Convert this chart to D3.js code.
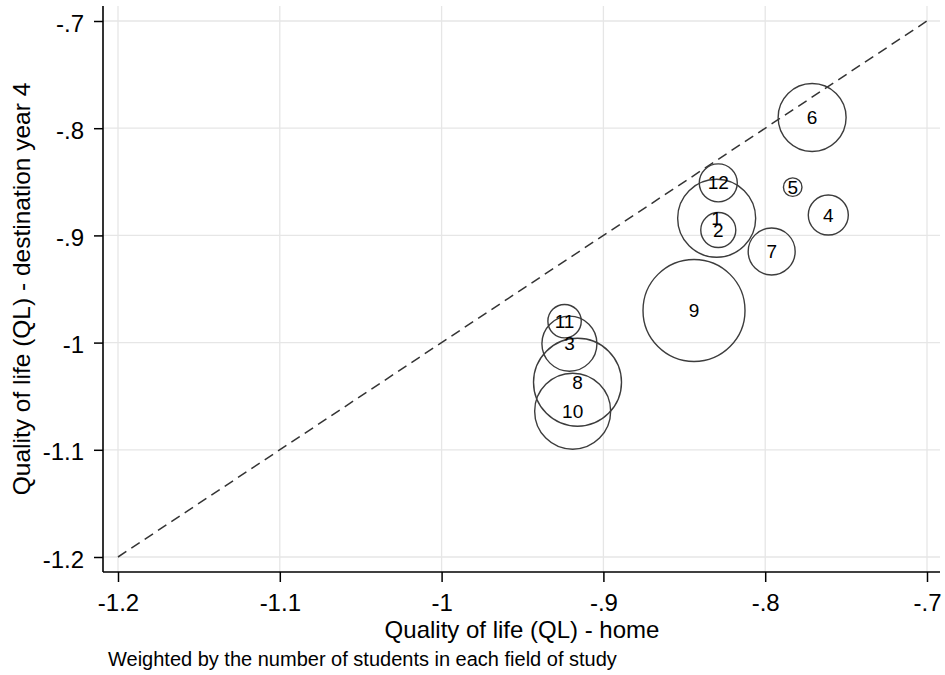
<!DOCTYPE html>
<html>
<head>
<meta charset="utf-8">
<script src="https://cdn.jsdelivr.net/npm/d3@7"></script>
<style>
  body { margin: 0; background: #fff; }
  svg { font-family: "Liberation Sans", Arial, sans-serif; }
</style>
</head>
<body>
<div id="chart"></div>
<script>
// Field of study labels
const fields = ["1", "2", "3", "4", "5", "6", "7", "8", "9", "10", "11", "12"];
// Quality of life at home (x)
const qlHome = [-0.830, -0.829, -0.921, -0.761, -0.783, -0.771, -0.796, -0.916, -0.844, -0.919, -0.924, -0.829];
// Quality of life at destination, year 4 (y)
const qlDest = [-0.884, -0.895, -1.001, -0.881, -0.855, -0.790, -0.915, -1.037, -0.970, -1.064, -0.980, -0.851];
// Number of students (bubble weight)
const students = [585, 118, 291, 154, 33, 444, 212, 744, 1000, 555, 107, 139];

const tickVals = [-1.2, -1.1, -1, -0.9, -0.8, -0.7];
const tickLabels = ["-1.2", "-1.1", "-1", "-.9", "-.8", "-.7"];

const W = 945, H = 675;
const plotL = 103, plotR = 940, plotT = 6, plotB = 572;

const svg = d3.select("#chart").append("svg")
    .attr("width", W)
    .attr("height", H);

const x = d3.scaleLinear().domain([-1.2, -0.7]).range([118, 927]);
const y = d3.scaleLinear().domain([-1.2, -0.7]).range([557, 21]);
const r = d3.scaleSqrt().domain([0, 1000]).range([0, 51]);

// grid
svg.append("g").selectAll("line")
    .data(tickVals)
    .join("line")
        .attr("x1", d => x(d)).attr("x2", d => x(d))
        .attr("y1", plotT).attr("y2", plotB)
        .attr("stroke", "#e6e6e6").attr("stroke-width", 1.3);
svg.append("g").selectAll("line")
    .data(tickVals)
    .join("line")
        .attr("y1", d => y(d)).attr("y2", d => y(d))
        .attr("x1", plotL).attr("x2", plotR)
        .attr("stroke", "#e6e6e6").attr("stroke-width", 1.3);

// 45 degree reference line
svg.append("line")
    .attr("x1", x(-1.2)).attr("y1", y(-1.2))
    .attr("x2", x(-0.7)).attr("y2", y(-0.7))
    .attr("stroke", "#333").attr("stroke-width", 1.5)
    .attr("stroke-dasharray", "10,6");

// axes
const xAxis = d3.axisBottom(x).tickValues(tickVals)
    .tickFormat((d, i) => tickLabels[i]).tickSizeOuter(0).tickSize(10).tickPadding(12);
const yAxis = d3.axisLeft(y).tickValues(tickVals)
    .tickFormat((d, i) => tickLabels[i]).tickSizeOuter(0).tickSize(9).tickPadding(10);

const xG = svg.append("g").attr("transform", `translate(0,${plotB})`).call(xAxis);
const yG = svg.append("g").attr("transform", `translate(${plotL},0)`).call(yAxis);
[xG, yG].forEach(g => {
    g.select(".domain").remove();
    g.selectAll(".tick line").attr("stroke", "#000").attr("stroke-width", 1.5);
    g.selectAll(".tick text").attr("font-size", 24).attr("fill", "#000")
        .attr("font-family", "Liberation Sans, Arial, sans-serif");
});
yG.selectAll(".tick text").attr("dy", "0.42em");
svg.append("line").attr("x1", plotL).attr("x2", plotR).attr("y1", plotB).attr("y2", plotB)
    .attr("stroke", "#000").attr("stroke-width", 1.6);
svg.append("line").attr("x1", plotL).attr("x2", plotL).attr("y1", plotT).attr("y2", plotB)
    .attr("stroke", "#000").attr("stroke-width", 1.6);

// bubbles
const data = fields.map((f, i) => ({ f, x: qlHome[i], y: qlDest[i], w: students[i] }));
svg.append("g").selectAll("circle")
    .data(data)
    .join("circle")
        .attr("cx", d => x(d.x))
        .attr("cy", d => y(d.y))
        .attr("r", d => r(d.w))
        .attr("fill", "none")
        .attr("stroke", "#3c3c3c")
        .attr("stroke-width", 1.4);
svg.append("g").selectAll("text")
    .data(data)
    .join("text")
        .attr("x", d => x(d.x))
        .attr("y", d => y(d.y))
        .attr("text-anchor", "middle")
        .attr("dominant-baseline", "central")
        .attr("font-size", 19)
        .attr("fill", "#000")
        .text(d => d.f);

// titles
svg.append("text")
    .attr("x", 522).attr("y", 638)
    .attr("text-anchor", "middle").attr("font-size", 24)
    .text("Quality of life (QL) - home");
svg.append("text")
    .attr("transform", `translate(30,289) rotate(-90)`)
    .attr("text-anchor", "middle").attr("font-size", 24.5)
    .text("Quality of life (QL) - destination year 4");
svg.append("text")
    .attr("x", 108).attr("y", 666)
    .attr("font-size", 20)
    .text("Weighted by the number of students in each field of study");
</script>
</body>
</html>
